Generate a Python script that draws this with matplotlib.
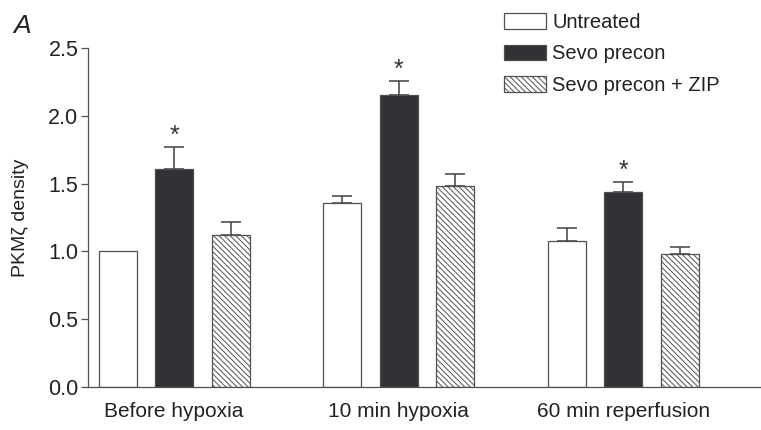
import matplotlib
matplotlib.use("Agg")
import matplotlib.pyplot as plt
import numpy as np

plt.rcParams['font.family'] = ['Liberation Sans', 'DejaVu Sans']
plt.rcParams['hatch.linewidth'] = 0.7

categories = ['Before hypoxia', '10 min hypoxia', '60 min reperfusion']
series_names = ['Untreated', 'Sevo precon', 'Sevo precon + ZIP']
untreated = [1.00, 1.36, 1.08]
untreated_err = [0.00, 0.05, 0.09]
sevo = [1.61, 2.15, 1.44]
sevo_err = [0.16, 0.11, 0.07]
sevo_zip = [1.12, 1.48, 0.98]
sevo_zip_err = [0.10, 0.09, 0.05]
sevo_significant = [True, True, True]
yticks = [0.0, 0.5, 1.0, 1.5, 2.0, 2.5]

edge = '#505050'
fig = plt.figure(figsize=(7.61, 4.30), dpi=100)
ax = fig.add_axes([88/761, 0.10, 1 - 88/761, 0.8884 - 0.10])

x = np.arange(len(categories))
off = 0.2514
w = 0.169

styles = [dict(facecolor='white', hatch=None),
          dict(facecolor='#333135', hatch=None),
          dict(facecolor='white', hatch='\\\\\\\\\\\\')]
vals = [untreated, sevo, sevo_zip]
errs = [untreated_err, sevo_err, sevo_zip_err]
handles = []
for i, (v, e, st) in enumerate(zip(vals, errs, styles)):
    xs = x + (i - 1) * off
    b = ax.bar(xs, v, width=w, facecolor=st['facecolor'], edgecolor=edge,
               linewidth=0.9, hatch=st['hatch'], label=series_names[i], zorder=2)
    handles.append(b)
    for xi, vi, ei in zip(xs, v, e):
        if ei > 0:
            ax.errorbar([xi], [vi], yerr=[[0], [ei]], fmt='none', ecolor='#404040',
                        elinewidth=1.1, capsize=7, capthick=1.1, zorder=1)

for xi, vi, ei, s in zip(x, sevo, sevo_err, sevo_significant):
    if s:
        ax.annotate('*', xy=(xi, vi + ei), xytext=(0, 3), textcoords='offset points',
                    ha='center', va='baseline', fontsize=18, color='#333333')

ax.set_xlim(-0.383, 2.612)
ax.set_ylim(0, 2.5)
ax.set_yticks(yticks)
ax.set_yticklabels([f'{t:.1f}' for t in yticks])
ax.set_xticks(x)
ax.set_xticklabels(categories)
ax.tick_params(axis='x', length=0, pad=11, labelsize=15, colors='#222222')
ax.tick_params(axis='y', length=5, width=0.9, pad=2, labelsize=15.5, colors='#505050',
               labelcolor='#222222')
for s in ['top', 'right']:
    ax.spines[s].set_visible(False)
for s in ['left', 'bottom']:
    ax.spines[s].set_color(edge)
    ax.spines[s].set_linewidth(0.9)

ax.set_ylabel('PKMζ density', fontsize=14, color='#222222')
ax.yaxis.set_label_coords(-59/673, 0.5)

fig.text(13/761, 1 - 33/430, 'A', fontsize=19, style='italic', color='#222222',
         ha='left', va='baseline')

leg = fig.legend(handles=handles, labels=series_names, loc='upper left',
                 bbox_to_anchor=(504/761, 1 - 13/430), frameon=False, fontsize=14.5,
                 handlelength=2.1, handleheight=0.78, handletextpad=0.3,
                 labelspacing=0.62, borderpad=0, borderaxespad=0)
for t in leg.get_texts():
    t.set_color('#222222')

fig.savefig('out.png', dpi=100)
